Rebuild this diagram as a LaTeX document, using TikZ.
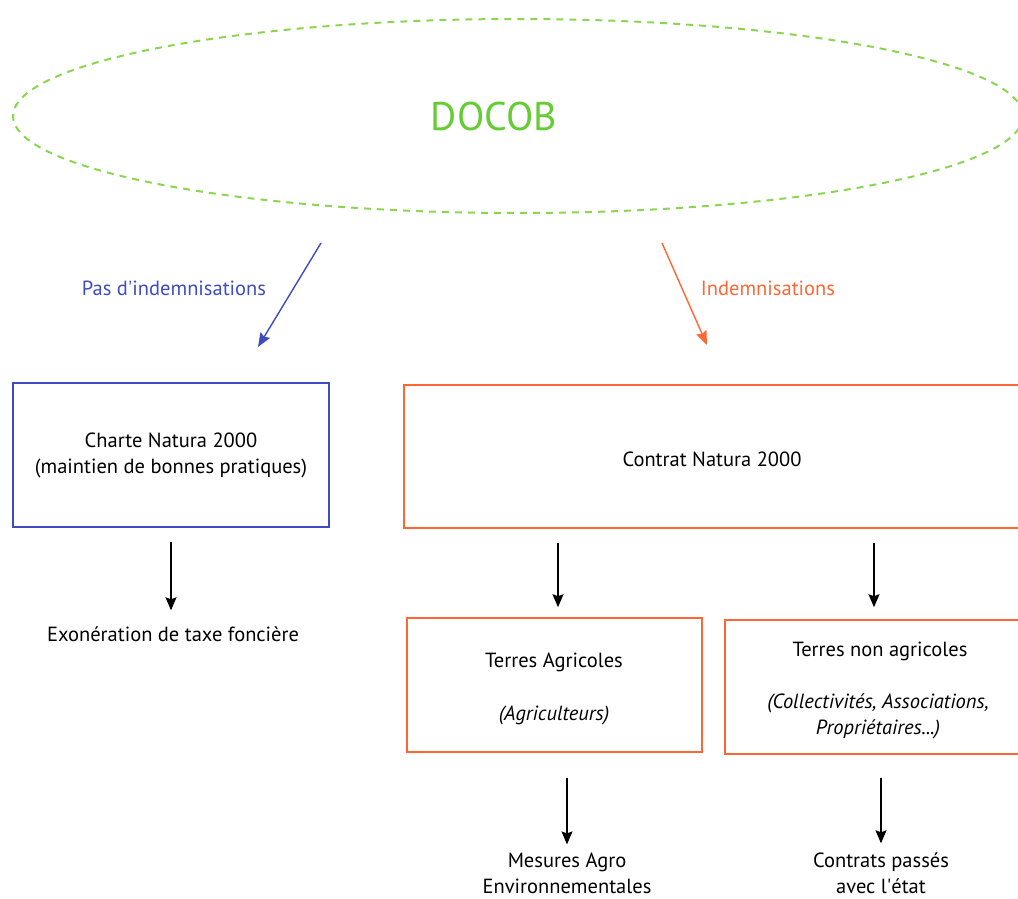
\documentclass[tikz,border=0pt]{standalone}
\usepackage{fontspec}
\setmainfont{PT Sans}
\usetikzlibrary{arrows.meta,positioning,calc}
\definecolor{docobgreen}{HTML}{66CC33}
\definecolor{docobdash}{HTML}{8AD651}
\definecolor{charteblue}{HTML}{3F4BBF}
\definecolor{contratorange}{HTML}{FF6633}

\tikzset{
  txt/.style={font=\fontsize{20.5}{26}\selectfont,align=center,inner sep=0pt},
  bluebox/.style={draw=charteblue,line width=1.6pt,minimum width=316pt,minimum height=144pt,
    font=\fontsize{20.5}{26}\selectfont,align=center},
  orangebox/.style={draw=contratorange,line width=1.6pt,
    font=\fontsize{20.5}{26}\selectfont,align=center},
  downarrow/.style={black,line width=1.3pt,-{Stealth[length=13pt,width=11pt,inset=2pt]}},
}

\begin{document}
\begin{tikzpicture}[x=1pt,y=-1pt]

  % ---- Canvas --------------------------------------------------
  \useasboundingbox (0,0) rectangle (1018,899);
  \clip (0,0) rectangle (1018,899);

  % ============================================================
  %  TOP: DOCOB
  % ============================================================
  \draw[docobdash,line width=2pt,dash pattern=on 7pt off 6pt] (518,116) ellipse (505 and 97);
  \node[font=\fontsize{40}{40}\selectfont,text=docobgreen] (docob) at (494,116) {DOCOB};

  % ---- Two branches --------------------------------------------
  \coordinate (bluestart) at (321,243);
  \coordinate (blueend)   at (258,347);
  \draw[charteblue,line width=1.4pt,-{Stealth[length=14pt,width=11pt,inset=2pt]}] (bluestart) -- (blueend);
  \node[txt,text=charteblue] (pasindem) at (174,288) {Pas d\textquotesingle indemnisations};

  \coordinate (orangestart) at (662,243);
  \coordinate (orangeend)   at (707,345);
  \draw[contratorange,line width=1.4pt,-{Stealth[length=14pt,width=11pt,inset=2pt]}] (orangestart) -- (orangeend);
  \node[txt,text=contratorange] (indem) at (768,288) {Indemnisations};

  % ============================================================
  %  LEFT: Charte
  % ============================================================
  \node[bluebox] (charte) at (171,455) {Charte Natura 2000\\(maintien de bonnes pratiques)};
  \node[txt] (exo) at (173,634) {Exonération de taxe foncière};
  \draw[downarrow] ([yshift=-14pt]charte.south) -- ([yshift=16pt]charte.south |- exo.north);

  % ============================================================
  %  RIGHT: Contrat
  % ============================================================
  \node[orangebox,minimum width=630pt,minimum height=143pt] (contrat) at (719,456.5) {};
  \node[txt] (contrattxt) at (712,459) {Contrat Natura 2000};

  \node[orangebox,minimum width=295pt,minimum height=134pt] (agri) at (554.5,685) {};
  \node[txt] (agritxt) at (554,662) {Terres Agricoles};
  \node[txt,font=\fontsize{20.5}{26}\selectfont\itshape] (agrisub) at (554,715) {(Agriculteurs)};

  \node[orangebox,minimum width=310pt,minimum height=134pt] (nonagri) at (880,687) {};
  \node[txt] (nonagritxt) at (880,651) {Terres non agricoles};
  \node[txt,font=\fontsize{20.5}{26}\selectfont\itshape] (nonagrisub) at (878,716)
    {(Collectivités, Associations,\\Propriétaires...)};

  \draw[downarrow] ([xshift=3.5pt,yshift=-14pt]contrat.south -| agri.north) -- ([xshift=3.5pt,yshift=10pt]agri.north);
  \draw[downarrow] ([xshift=-6pt,yshift=-14pt]contrat.south -| nonagri.north) -- ([xshift=-6pt,yshift=12pt]nonagri.north);

  % ---- Outcomes ------------------------------------------------
  \node[txt] (mae) at (567,873) {Mesures Agro\\Environnementales};
  \node[txt] (etat) at (881,873) {Contrats passés\\avec l\textquotesingle état};
  \draw[downarrow] ([yshift=-25pt]agri.south -| mae.north) -- ([yshift=8pt]mae.north);
  \draw[downarrow] ([yshift=-23pt]nonagri.south -| etat.north) -- ([yshift=9pt]etat.north);

\end{tikzpicture}
\end{document}
